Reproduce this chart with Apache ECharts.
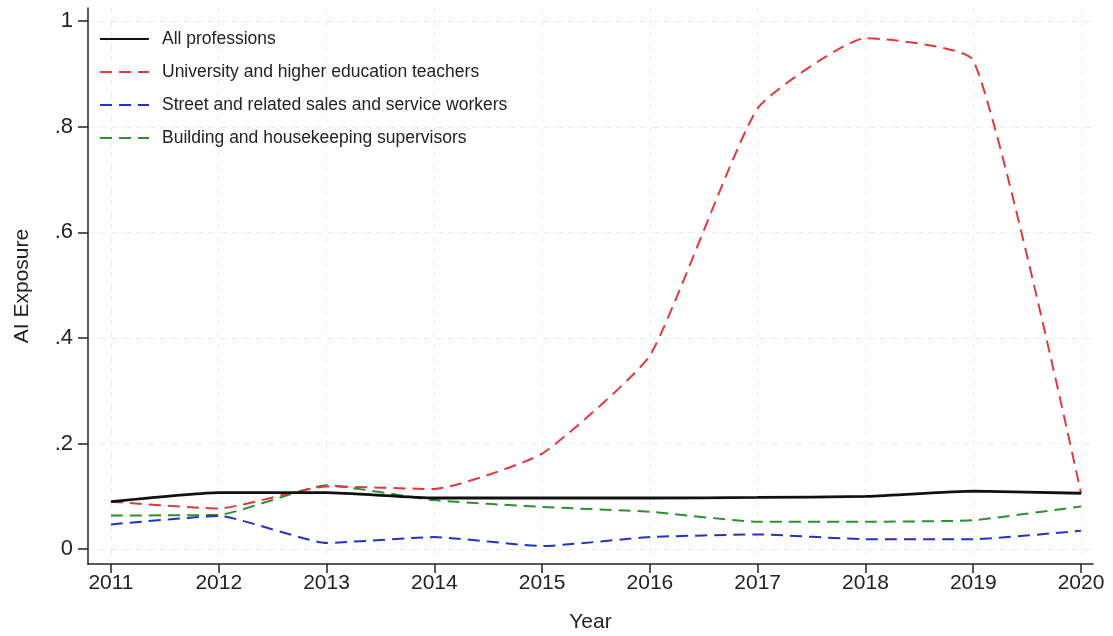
<!DOCTYPE html>
<html>
<head>
<meta charset="utf-8">
<script src="https://cdn.jsdelivr.net/npm/echarts@6/dist/echarts.min.js"></script>
<style>
  html, body { margin: 0; padding: 0; background: #fff; }
  #chart { width: 1113px; height: 636px; }
</style>
</head>
<body>
<div id="chart"></div>
<script>
var years = [2011, 2012, 2013, 2014, 2015, 2016, 2017, 2018, 2019, 2020];
var allProf    = [0.090, 0.107, 0.107, 0.097, 0.097, 0.097, 0.098, 0.100, 0.110, 0.106];
var university = [0.090, 0.077, 0.119, 0.114, 0.181, 0.367, 0.835, 0.968, 0.926, 0.106];
var street     = [0.047, 0.063, 0.012, 0.023, 0.006, 0.023, 0.028, 0.019, 0.019, 0.035];
var building   = [0.064, 0.065, 0.121, 0.093, 0.080, 0.071, 0.052, 0.052, 0.055, 0.081];
var yTicks = [0, 0.2, 0.4, 0.6, 0.8, 1];

function pairs(vals) {
    return years.map(function(y, i) { return [y, vals[i]]; });
}

var font = 'Liberation Sans, Arial, sans-serif';
var myChart = echarts.init(document.getElementById('chart'));

function mk(name, vals, color, width, dashed) {
    return {
        name: name,
        type: 'line',
        data: pairs(vals),
        symbol: 'none',
        smooth: 0.15,
        lineStyle: { color: color, width: width, type: dashed ? [12, 7] : 'solid' },
        itemStyle: { color: color },
        animation: false
    };
}

var option = {
    backgroundColor: '#fff',
    animation: false,
    grid: { left: 88, right: 20, top: 8, bottom: 72, outerBoundsMode: 'none', containLabel: false },
    legend: {
        left: 94, top: 25,
        orient: 'vertical',
        itemWidth: 49, itemHeight: 14, itemGap: 15,
        itemStyle: { opacity: 0 },
        textStyle: { fontFamily: font, fontSize: 17.5, color: '#222', padding: [0, 0, 0, 8] },
        data: ['All professions', 'University and higher education teachers',
               'Street and related sales and service workers', 'Building and housekeeping supervisors']
    },
    xAxis: {
        type: 'value',
        min: 2010.787, max: 2020.111,
        name: 'Year', nameLocation: 'middle', nameGap: 48,
        nameTextStyle: { fontFamily: font, fontSize: 21, color: '#222' },
        axisLine: { show: true, onZero: false, lineStyle: { color: '#222', width: 1.5 } },
        axisTick: { show: true, customValues: years, length: 9, lineStyle: { color: '#222', width: 1.5 } },
        axisLabel: { customValues: years, fontFamily: font, fontSize: 21, color: '#222', margin: 9,
                     formatter: function(v) { return String(v); } },
        splitLine: { show: true, lineStyle: { color: '#ececec', type: [6, 6], width: 1 } }
    },
    yAxis: {
        type: 'value',
        min: -0.028, max: 1.025,
        name: 'AI Exposure', nameLocation: 'middle', nameGap: 55,
        nameTextStyle: { fontFamily: font, fontSize: 21, color: '#222' },
        axisLine: { show: true, onZero: false, lineStyle: { color: '#222', width: 1.5 } },
        axisTick: { show: true, customValues: yTicks, length: 10, lineStyle: { color: '#222', width: 1.5 } },
        axisLabel: {
            customValues: yTicks, fontFamily: font, fontSize: 22, color: '#222', margin: 15,
            formatter: function(v) {
                if (Math.abs(v) < 1e-9) return '0';
                if (Math.abs(v - 1) < 1e-9) return '1';
                return '.' + Math.round(v * 10);
            }
        },
        splitLine: { show: true, lineStyle: { color: '#ececec', type: [6, 6], width: 1 } }
    },
    series: [
        mk('Building and housekeeping supervisors', building, '#2f8f2f', 2, true),
        mk('Street and related sales and service workers', street, '#2233c0', 2, true),
        mk('University and higher education teachers', university, '#de3a3e', 2, true),
        mk('All professions', allProf, '#111111', 2.8, false)
    ]
};
myChart.setOption(option);
</script>
</body>
</html>
